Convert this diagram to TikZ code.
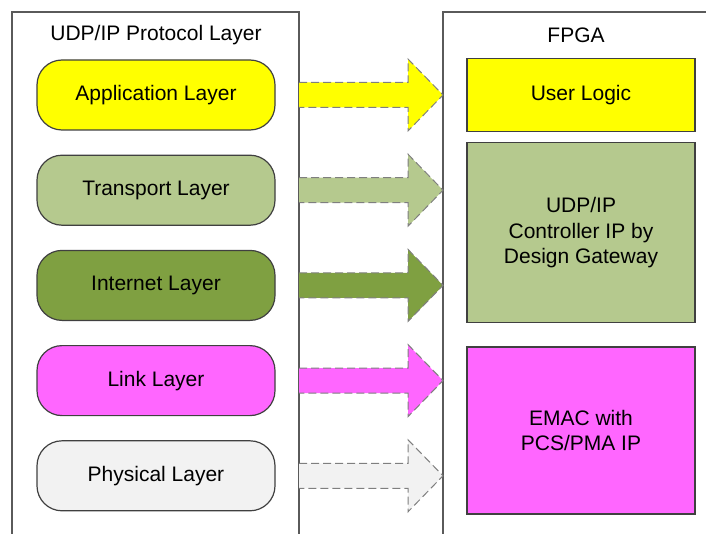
\documentclass[tikz,border=0pt]{standalone}
\usepackage{fontspec}
\setmainfont{Liberation Sans}
\usetikzlibrary{positioning}

\definecolor{appyellow}{HTML}{FFFF00}
\definecolor{transgreen}{HTML}{B5C98E}
\definecolor{inetgreen}{HTML}{7FA041}
\definecolor{linkpink}{HTML}{FF66FF}
\definecolor{physgray}{HTML}{F2F2F2}
\definecolor{edgegray}{HTML}{404040}
\definecolor{framegray}{HTML}{5A5A5A}
\definecolor{dashgray}{HTML}{7F7F7F}

\begin{document}
\begin{tikzpicture}[x = 0.5pt, y = -0.5pt,
	font = \fontsize{10.5}{12.6}\selectfont,
	layer/.style = {draw = edgegray, line width = 0.6pt, rounded corners = 12.5pt,
		minimum width = 119pt, minimum height = 35pt},
	block/.style = {draw = edgegray, line width = 0.6pt, minimum width = 114pt, align = center},
	fatarrow/.style = {draw = dashgray, line width = 0.5pt, dash pattern = on 4pt off 2pt}]
	
	\useasboundingbox (0, 0) rectangle (706, 534);
	
	% The two frames
	
	\draw [framegray, line width = 0.6pt] (12, 534) -- (12, 12) -- (299, 12) -- (299, 534);
	\draw [framegray, line width = 0.6pt] (443, 534) -- (443, 12) -- (706, 12);
	\coordinate (leftedge) at (299, 0);
	
	\node (prottitle) at (156, 35) {UDP/IP Protocol Layer};
	\node (fpgatitle) at (576, 35) {FPGA};
	
	% Protocol layers
	
	\node [layer, fill = appyellow] (app) at (156, 95) {Application Layer};
	\node [layer, fill = transgreen, below = 12pt of app] (trans) {Transport Layer};
	\node [layer, fill = inetgreen, below = 12pt of trans] (inet) {Internet Layer};
	\node [layer, fill = linkpink, below = 12pt of inet] (link) {Link Layer};
	\node [layer, fill = physgray, below = 12pt of link] (phys) {Physical Layer};
	
	% FPGA blocks
	
	\node [block, fill = appyellow, minimum height = 36.5pt] (user) at (581, 95) {User Logic};
	\node [block, fill = transgreen, minimum height = 90pt, below = 5pt of user] (ctrl)
		{UDP/IP\\Controller IP by\\Design Gateway};
	\node [block, fill = linkpink, minimum height = 83.5pt, below = 11.5pt of ctrl] (emac)
		{EMAC with\\PCS/PMA IP};
	
	% Block arrows from layers to FPGA
	
	\foreach \lay/\col in {app/appyellow, trans/transgreen, inet/inetgreen, link/linkpink, phys/physgray} {
		\fill [\col] (\lay -| leftedge) ++(0, -12.5) -- ++(109, 0) -- ++(0, -23.5) -- ++(35, 36)
			-- ++(-35, 36) -- ++(0, -23.5) -- ++(-109, 0) -- cycle;
		\draw [fatarrow] (\lay -| leftedge) ++(0, -12.5) -- ++(109, 0) -- ++(0, -23.5) -- ++(35, 36)
			-- ++(-35, 36) -- ++(0, -23.5) -- ++(-109, 0);
	}

\end{tikzpicture}
\end{document}
